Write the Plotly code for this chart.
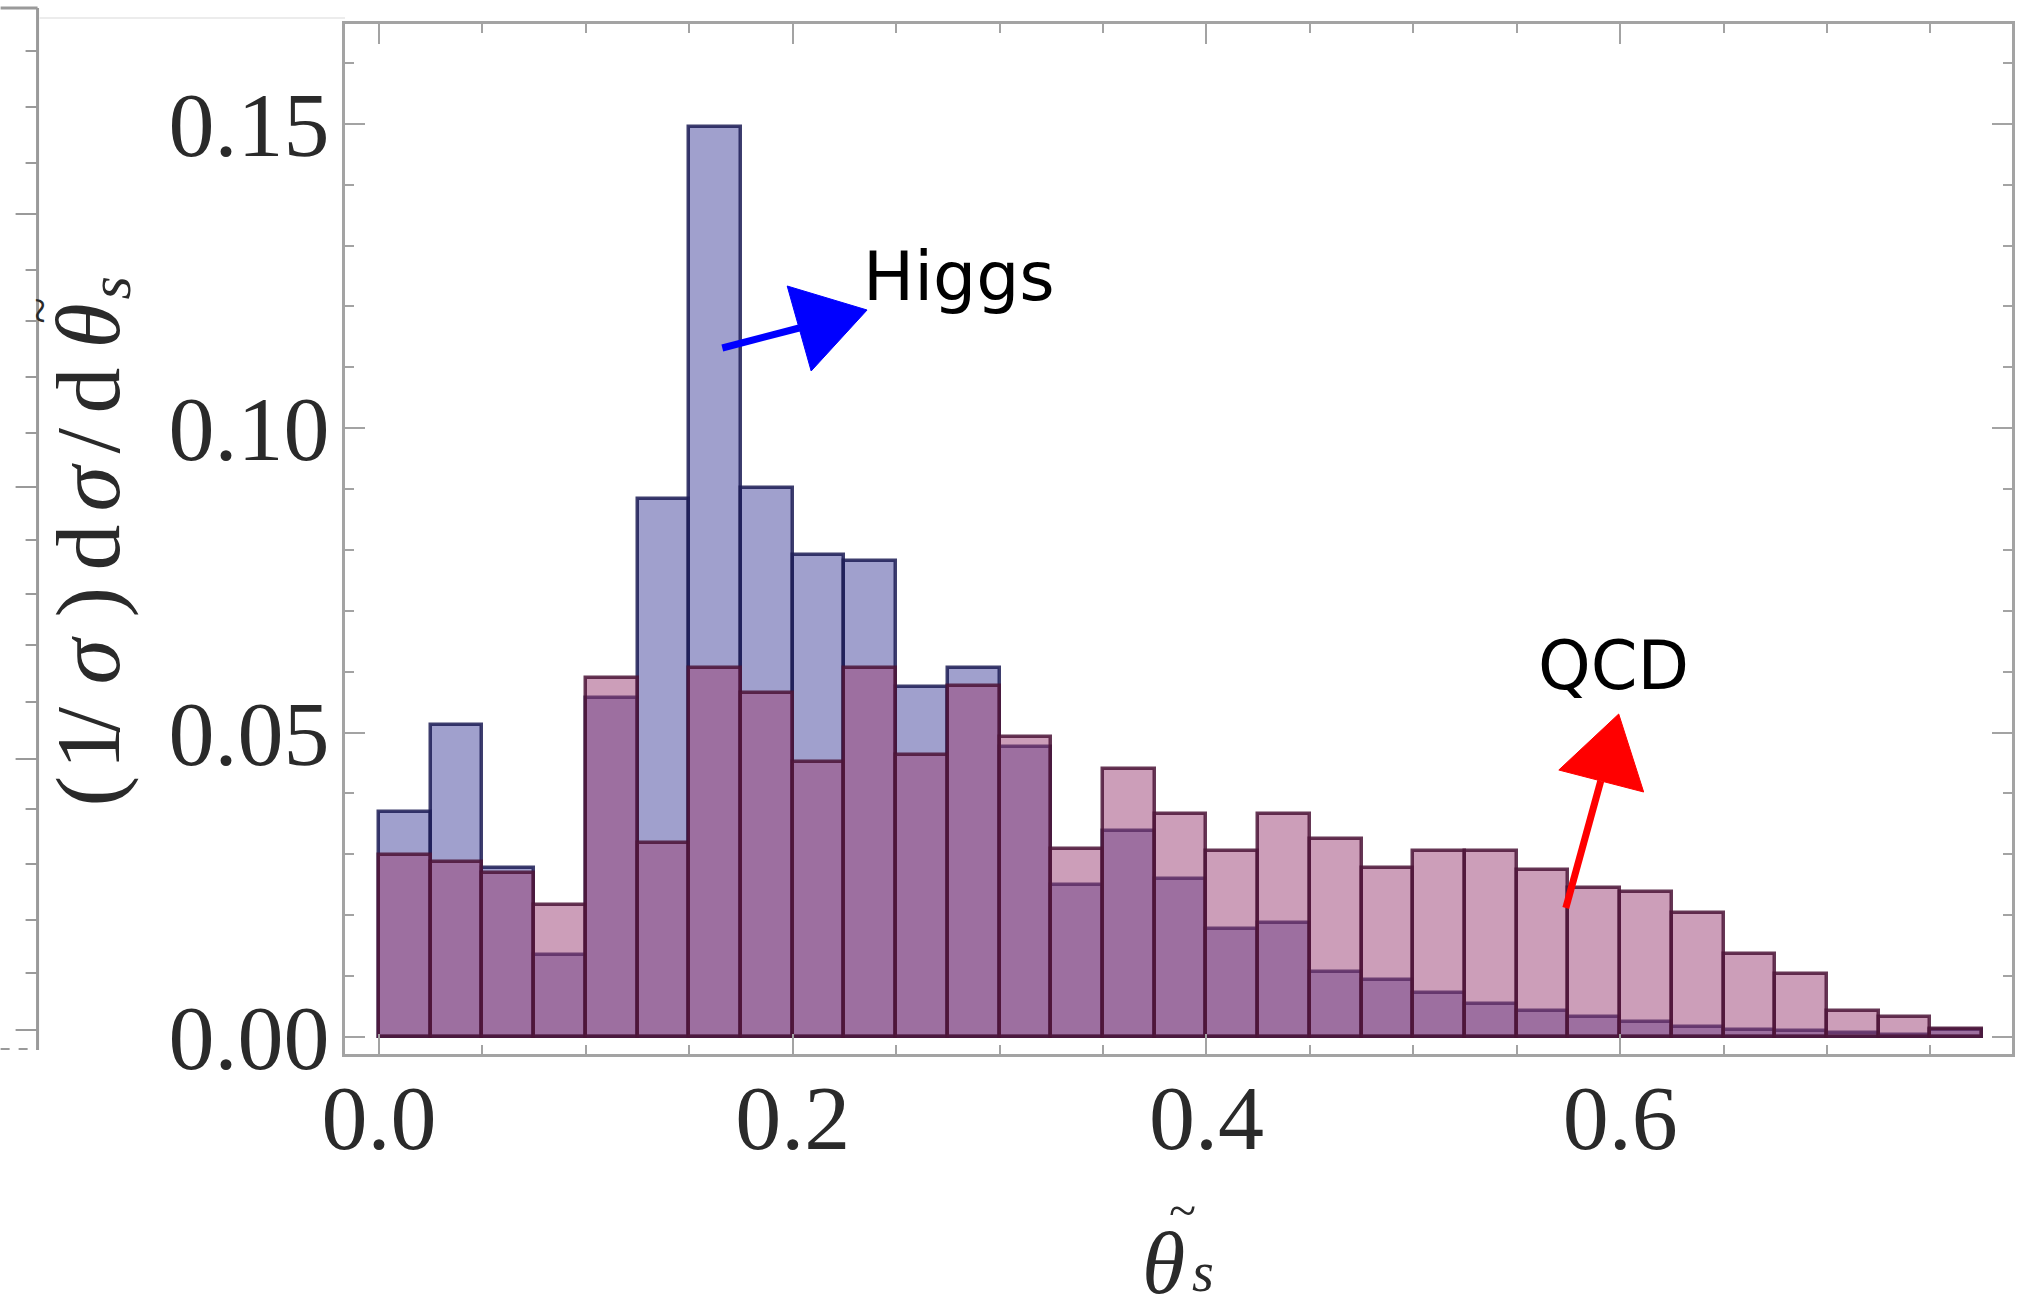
import plotly.graph_objects as go

# Histogram bins of the rescaled angle (bin width 0.025)
bin_centers = [
    0.0125, 0.0375, 0.0625, 0.0875, 0.1125, 0.1375, 0.1625, 0.1875,
    0.2125, 0.2375, 0.2625, 0.2875, 0.3125, 0.3375, 0.3625, 0.3875,
    0.4125, 0.4375, 0.4625, 0.4875, 0.5125, 0.5375, 0.5625, 0.5875,
    0.6125, 0.6375, 0.6625, 0.6875, 0.7125, 0.7375, 0.7625,
]
bin_width = 0.025

# Normalised distributions (1/sigma) dsigma/dtheta_s
higgs = [
    0.0370, 0.0512, 0.0278, 0.0135, 0.0556, 0.0884, 0.1495, 0.0902,
    0.0792, 0.0782, 0.0575, 0.0606, 0.0476, 0.0250, 0.0338, 0.0259,
    0.0178, 0.0187, 0.0107, 0.0094, 0.0072, 0.0054, 0.0042, 0.0033,
    0.0024, 0.0016, 0.0012, 0.0010, 0.0007, 0.0004, 0.0011,
]
qcd = [
    0.0299, 0.0288, 0.0270, 0.0216, 0.0590, 0.0318, 0.0606, 0.0565,
    0.0452, 0.0606, 0.0463, 0.0577, 0.0493, 0.0309, 0.0440, 0.0367,
    0.0305, 0.0366, 0.0326, 0.0277, 0.0305, 0.0305, 0.0275, 0.0244,
    0.0238, 0.0203, 0.0136, 0.0104, 0.0042, 0.0033, 0.0013,
]

x_ticks = [0.0, 0.2, 0.4, 0.6]
y_ticks = [0.00, 0.05, 0.10, 0.15]

W, H = 2021, 1312
L, R, T, B = 345, 2015, 24, 1054  # plot-area edges in pixels


def px(x):
    return (x - L) / (R - L)


def py(y):
    return (B - y) / (B - T)


fig = go.Figure()
fig.add_trace(go.Bar(
    x=bin_centers, y=higgs, width=bin_width, name="Higgs",
    marker=dict(color="rgba(65,65,155,0.5)",
                line=dict(color="rgba(28,28,85,0.85)", width=3.5)),
))
fig.add_trace(go.Bar(
    x=bin_centers, y=qcd, width=bin_width, name="QCD",
    marker=dict(color="rgba(153,61,115,0.5)",
                line=dict(color="rgba(75,20,55,0.85)", width=3.5)),
))

frame = "#a3a3a3"
ink = "#2a2a2a"
serif = "Liberation Serif"
tickfont = dict(family=serif, size=92, color=ink)

fig.update_layout(
    width=W, height=H,
    margin=dict(l=L, r=W - R, t=T, b=H - B, pad=0),
    paper_bgcolor="white", plot_bgcolor="white",
    barmode="overlay", bargap=0, showlegend=False,
    xaxis=dict(
        range=[-0.0164, 0.7894], showgrid=False, zeroline=False,
        showline=True, linecolor=frame, linewidth=3, mirror="allticks",
        ticks="inside", ticklen=20, tickwidth=2, tickcolor=frame,
        tickvals=x_ticks, tickformat=".1f", tickfont=tickfont,
        ticklabelstandoff=-18,
        minor=dict(ticks="inside", ticklen=9, tickwidth=2, tickcolor=frame,
                   dtick=0.05, tick0=0, showgrid=False),
    ),
    yaxis=dict(
        range=[-0.0028, 0.1664], showgrid=False, zeroline=False,
        showline=True, linecolor=frame, linewidth=3, mirror="allticks",
        ticks="inside", ticklen=20, tickwidth=2, tickcolor=frame,
        tickvals=y_ticks, tickformat=".2f", tickfont=tickfont,
        ticklabelstandoff=-6,
        minor=dict(ticks="inside", ticklen=9, tickwidth=2, tickcolor=frame,
                   dtick=0.01, tick0=0, showgrid=False),
    ),
)


def glyph(text, x, y, size, angle=0):
    fig.add_annotation(
        xref="paper", yref="paper", x=px(x), y=py(y), text=text,
        textangle=angle, showarrow=False, xanchor="center", yanchor="middle",
        font=dict(family=serif, size=size, color=ink),
    )


# y-axis title: (1/σ) dσ/dθ̃_s, set glyph by glyph along the rotated baseline
y_title = [
    ("(", 791), ("1", 746), ("/", 719), ("<i>σ</i>", 660), (")", 602),
    ("d", 547), ("<i>σ</i>", 487), ("/", 440), ("d", 390), ("<i>θ</i>", 326),
]
for txt, yy in y_title:
    glyph(txt, 88, yy, 92, -90)
glyph("~", 39, 311, 48, -90)
glyph("<i>s</i>", 110, 288, 60, -90)

# x-axis title: θ̃_s
glyph("<i>θ</i>", 1165, 1263, 88)
glyph("~", 1184, 1210, 50)
glyph("<i>s</i>", 1205, 1272, 56)

# Labels with arrows
fig.add_annotation(
    xref="paper", yref="paper", x=px(862), y=py(276), text="Higgs",
    showarrow=False, xanchor="left", yanchor="middle",
    font=dict(family="DejaVu Sans", size=68, color="black"),
)
fig.add_annotation(
    xref="paper", yref="paper", x=px(1538), y=py(666), text="QCD",
    showarrow=False, xanchor="left", yanchor="middle",
    font=dict(family="DejaVu Sans", size=67, color="black"),
)


def arrow(tail, base, tip, left, right, color):
    fig.add_shape(type="line", xref="paper", yref="paper",
                  x0=px(tail[0]), y0=py(tail[1]), x1=px(base[0]), y1=py(base[1]),
                  line=dict(color=color, width=7))
    path = "M {} {} L {} {} L {} {} Z".format(
        px(left[0]), py(left[1]), px(tip[0]), py(tip[1]), px(right[0]), py(right[1]))
    fig.add_shape(type="path", xref="paper", yref="paper", path=path,
                  fillcolor=color, line=dict(color=color, width=1))


arrow((723, 348), (800, 328), (868, 310), (788, 286), (812, 371), "#0000ff")
arrow((1568, 908), (1603, 781), (1621, 714), (1561, 770), (1646, 792), "#ff0000")

# Edge of the neighbouring panel on the left
edge = "#9a9a9a"
fig.add_shape(type="line", xref="paper", yref="paper",
              x0=px(37), y0=py(8), x1=px(37), y1=py(1050),
              line=dict(color=edge, width=3))
fig.add_shape(type="line", xref="paper", yref="paper",
              x0=px(0), y0=py(8), x1=px(37), y1=py(8),
              line=dict(color=edge, width=3))
fig.add_shape(type="line", xref="paper", yref="paper",
              x0=px(0), y0=py(1049), x1=px(37), y1=py(1049),
              line=dict(color=edge, width=2, dash="dash"))
fig.add_shape(type="line", xref="paper", yref="paper",
              x0=px(39), y0=py(18), x1=px(345), y1=py(18),
              line=dict(color="#ececec", width=2))
edge_ticks = [51, 107, 163, 214, 270, 321, 377, 433, 487, 540, 594, 645,
              702, 759, 809, 864, 920, 973, 1030]
edge_major = [214, 487, 759, 1030]
for ty in edge_ticks:
    x0 = 15 if ty in edge_major else 25
    fig.add_shape(type="line", xref="paper", yref="paper",
                  x0=px(x0), y0=py(ty), x1=px(37), y1=py(ty),
                  line=dict(color=edge, width=2))

fig.write_html("out.html")
